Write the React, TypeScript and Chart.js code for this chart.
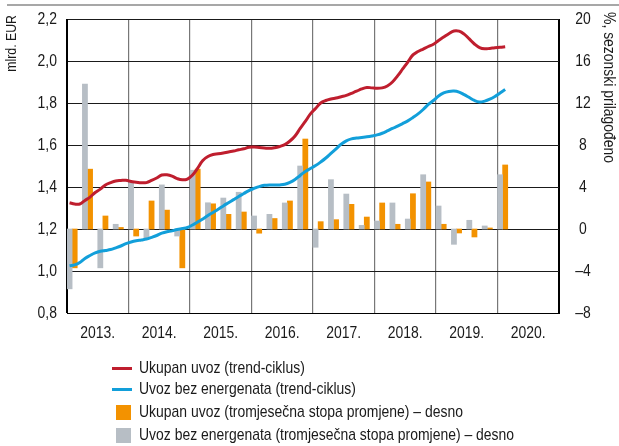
import React, { useEffect, useRef } from "react";
import { Chart, registerables } from "chart.js";

Chart.register(...registerables);

// ---- data ----
const yearLabels = ["2013.", "2014.", "2015.", "2016.", "2017.", "2018.", "2019.", "2020."];

// monthly trend-cycle, Jan 2013 .. Feb 2020 (mlrd. EUR)
const ukupanTrend = [
  1.325, 1.319, 1.319, 1.336, 1.352, 1.374, 1.39, 1.41, 1.421, 1.429, 1.431, 1.432,
  1.426, 1.423, 1.42, 1.421, 1.431, 1.443, 1.457, 1.458, 1.452, 1.44, 1.434, 1.438,
  1.457, 1.49, 1.526, 1.545, 1.555, 1.558, 1.562, 1.567, 1.571, 1.577, 1.582, 1.589,
  1.59, 1.588, 1.586, 1.584, 1.587, 1.593, 1.602, 1.619, 1.643, 1.679, 1.712, 1.748,
  1.774, 1.8, 1.812, 1.819, 1.824, 1.83, 1.836, 1.846, 1.856, 1.867, 1.874, 1.872,
  1.87, 1.872, 1.881, 1.9, 1.929, 1.962, 1.995, 2.029, 2.045, 2.057, 2.069, 2.08,
  2.098, 2.114, 2.13, 2.143, 2.142, 2.128, 2.105, 2.081, 2.064, 2.058, 2.06, 2.063,
  2.065, 2.068,
];
const bezEnergTrend = [
  1.025, 1.029, 1.04, 1.06, 1.074, 1.086, 1.094, 1.098, 1.102, 1.11, 1.119, 1.13,
  1.138, 1.144, 1.148, 1.152, 1.16, 1.169, 1.18, 1.187, 1.191, 1.198, 1.202, 1.207,
  1.219, 1.233, 1.248, 1.264, 1.279, 1.294, 1.31, 1.325, 1.34, 1.355, 1.369, 1.383,
  1.393, 1.402, 1.408, 1.41, 1.409, 1.41, 1.413, 1.422, 1.436, 1.455, 1.474, 1.488,
  1.502, 1.519, 1.538, 1.56, 1.582, 1.604, 1.62, 1.629, 1.633, 1.636, 1.639, 1.643,
  1.648, 1.656, 1.667, 1.679, 1.69, 1.702, 1.715, 1.731, 1.748, 1.769, 1.793, 1.812,
  1.833, 1.848, 1.855, 1.857, 1.852, 1.84, 1.826, 1.812, 1.805, 1.809, 1.818, 1.831,
  1.848, 1.864,
];

// quarterly 3-month rate of change, Q1 2013 .. Q1 2020 (%)
const ukupanStopa = [
  -3.7, 5.7, 1.24, 0.15,
  -0.67, 2.67, 1.8, -3.7,
  5.7, 2.4, 1.4, 1.62,
  -0.4, 1.0, 2.67, 8.57,
  0.7, 0.89, 2.35, 1.14,
  2.48, 0.45, 3.36, 4.48,
  0.45, -0.38, -0.76, 0.1,
  6.1,
];
const bezEnergStopa = [
  -5.7, 13.8, -3.7, 0.45,
  4.4, -0.95, 4.2, -0.67,
  5.6, 2.5, 2.95, 3.5,
  1.24, 1.4, 2.48, 6.0,
  -1.74, 4.7, 3.33, 0.35,
  0.76, 2.48, 0.95, 5.17,
  2.19, -1.46, 0.83, 0.29,
  5.17,
];

const leftTickValues = [0.8, 1.0, 1.2, 1.4, 1.6, 1.8, 2.0, 2.2];
const rightTickValues = [-8, -4, 0, 4, 8, 12, 16, 20];

const legendLabels = [
  "Ukupan uvoz (trend-ciklus)",
  "Uvoz bez energenata (trend-ciklus)",
  "Ukupan uvoz (tromjesečna stopa promjene) – desno",
  "Uvoz bez energenata (tromjesečna stopa promjene) – desno",
];

const leftTitle = "mlrd. EUR";
const rightTitle = "%, sezonski prilagođeno";

// ---- styles ----
const FONT = "'Liberation Sans', Arial, sans-serif";
const NARROW = 0.82;
const TEXT = "#1a1a1a";
const RED = "#bf1e2e";
const BLUE = "#129fda";
const ORANGE = "#f39200";
const GREY = "#b7bec5";

const W = 619;
const H = 446;

function narrowText(ctx: any, text: string, x: number, y: number, align: string, size: number) {
  ctx.save();
  ctx.translate(x, y);
  ctx.scale(NARROW, 1);
  ctx.font = `${size}px ${FONT}`;
  ctx.textAlign = align;
  ctx.textBaseline = "middle";
  ctx.fillStyle = TEXT;
  ctx.fillText(text, 0, 0);
  ctx.restore();
}

const decorPlugin = {
  id: "decor",
  afterDraw(chart: any) {
    const ctx = chart.ctx;
    const { x, y, y1 } = chart.scales;
    ctx.save();
    ctx.strokeStyle = "#8a8a8a";
    ctx.lineWidth = 1.5;
    ctx.beginPath();
    ctx.moveTo(7, 5);
    ctx.lineTo(W, 5);
    ctx.stroke();

    // tick labels
    leftTickValues.forEach((v) => {
      narrowText(ctx, v.toFixed(1).replace(".", ","), 57, y.getPixelForValue(v) + 0.5, "right", 17);
    });
    rightTickValues.forEach((v) => {
      const s = v < 0 ? "–" + Math.abs(v) : String(v);
      narrowText(ctx, s, 583, y1.getPixelForValue(v) + 0.5, "center", 17);
    });
    yearLabels.forEach((lab, i) => {
      narrowText(ctx, lab, x.getPixelForValue(i * 12 + 6), chart.chartArea.bottom + 20.5, "center", 17);
    });

    // axis titles
    ctx.save();
    ctx.translate(12, 15);
    ctx.rotate(-Math.PI / 2);
    narrowText(ctx, leftTitle, 0, 0, "right", 15);
    ctx.restore();

    ctx.save();
    ctx.translate(609, 12);
    ctx.rotate(Math.PI / 2);
    narrowText(ctx, rightTitle, 0, 0, "left", 17);
    ctx.restore();
    ctx.restore();
  },
};

export default function App() {
  const ref = useRef<HTMLCanvasElement | null>(null);

  useEffect(() => {
    if (!ref.current) return;
    const lineData = (arr: number[]) => arr.map((v, i) => ({ x: i + 0.5, y: v }));
    const barData = (arr: number[], shift: number) => arr.map((v, q) => ({ x: q * 3 + shift, y: v }));

    const chart = new Chart(ref.current, {
      type: "bar",
      data: {
        datasets: [
          {
            type: "line",
            label: legendLabels[0],
            data: lineData(ukupanTrend),
            borderColor: RED,
            borderWidth: 3,
            pointRadius: 0,
            tension: 0.4,
            yAxisID: "y",
            xAxisID: "x",
            order: 0,
          } as any,
          {
            type: "line",
            label: legendLabels[1],
            data: lineData(bezEnergTrend),
            borderColor: BLUE,
            borderWidth: 3,
            pointRadius: 0,
            tension: 0.4,
            yAxisID: "y",
            xAxisID: "x",
            order: 0,
          } as any,
          {
            type: "bar",
            label: legendLabels[3],
            data: barData(bezEnergStopa, 0.5),
            backgroundColor: GREY,
            yAxisID: "y1",
            xAxisID: "x",
            grouped: false,
            barPercentage: 1,
            categoryPercentage: 1,
            order: 1,
          } as any,
          {
            type: "bar",
            label: legendLabels[2],
            data: barData(ukupanStopa, 1.5),
            backgroundColor: ORANGE,
            yAxisID: "y1",
            xAxisID: "x",
            grouped: false,
            barPercentage: 1,
            categoryPercentage: 1,
            order: 1,
          } as any,
        ],
      },
      options: {
        responsive: false,
        animation: false,
        layout: { padding: { top: 19, left: 0, right: 0, bottom: 0 } },
        plugins: { legend: { display: false }, tooltip: { enabled: false } },
        scales: {
          x: {
            type: "linear",
            position: "bottom",
            offset: false,
            min: 0,
            max: yearLabels.length * 12,
            ticks: { display: false, stepSize: 12 },
            grid: {
              offset: false,
              color: (c: any) => (c.tick && (c.tick.value === 0 || c.tick.value === 96) ? "#000" : "#777"),
              lineWidth: 1.2,
              drawTicks: false,
            },
            border: { color: "#000", width: 1 },
            afterFit: (s: any) => {
              s.height = H - 313;
            },
          },
          y: {
            type: "linear",
            position: "left",
            min: leftTickValues[0],
            max: leftTickValues[leftTickValues.length - 1],
            ticks: { display: false, stepSize: 0.2 },
            grid: { color: "#1a1a1a", lineWidth: 1, drawTicks: false },
            border: { color: "#000", width: 1 },
            afterFit: (s: any) => {
              s.width = 67;
            },
          },
          y1: {
            type: "linear",
            position: "right",
            min: rightTickValues[0],
            max: rightTickValues[rightTickValues.length - 1],
            ticks: { display: false, stepSize: 4 },
            grid: { display: false, drawTicks: false },
            border: { color: "#000", width: 1 },
            afterFit: (s: any) => {
              s.width = W - 559;
            },
          },
        } as any,
      },
      plugins: [decorPlugin],
    });
    return () => chart.destroy();
  }, []);

  const legendRow = (top: number, kind: "line" | "box", color: string, text: string) => (
    <div key={text} style={{ position: "absolute", left: 0, top: top - 11, height: 22, width: W }}>
      {kind === "line" ? (
        <div style={{ position: "absolute", left: 112, top: 9.5, width: 20, height: 3, background: color }} />
      ) : (
        <div style={{ position: "absolute", left: 116, top: 3.5, width: 15, height: 15, background: color }} />
      )}
      <span
        style={{
          position: "absolute",
          left: 139,
          top: 0,
          lineHeight: "22px",
          whiteSpace: "nowrap",
          fontFamily: FONT,
          fontSize: 17,
          color: TEXT,
          transform: `scaleX(${NARROW})`,
          transformOrigin: "0 50%",
        }}
      >
        {text}
      </span>
    </div>
  );

  return (
    <div style={{ position: "absolute", left: 0, top: 0, width: W, height: H, background: "#fff", overflow: "hidden" }}>
      <canvas ref={ref} width={W} height={H} style={{ position: "absolute", left: 0, top: 0, width: W, height: H }} />
      {legendRow(368, "line", RED, legendLabels[0])}
      {legendRow(389, "line", BLUE, legendLabels[1])}
      {legendRow(412, "box", ORANGE, legendLabels[2])}
      {legendRow(435, "box", GREY, legendLabels[3])}
    </div>
  );
}
